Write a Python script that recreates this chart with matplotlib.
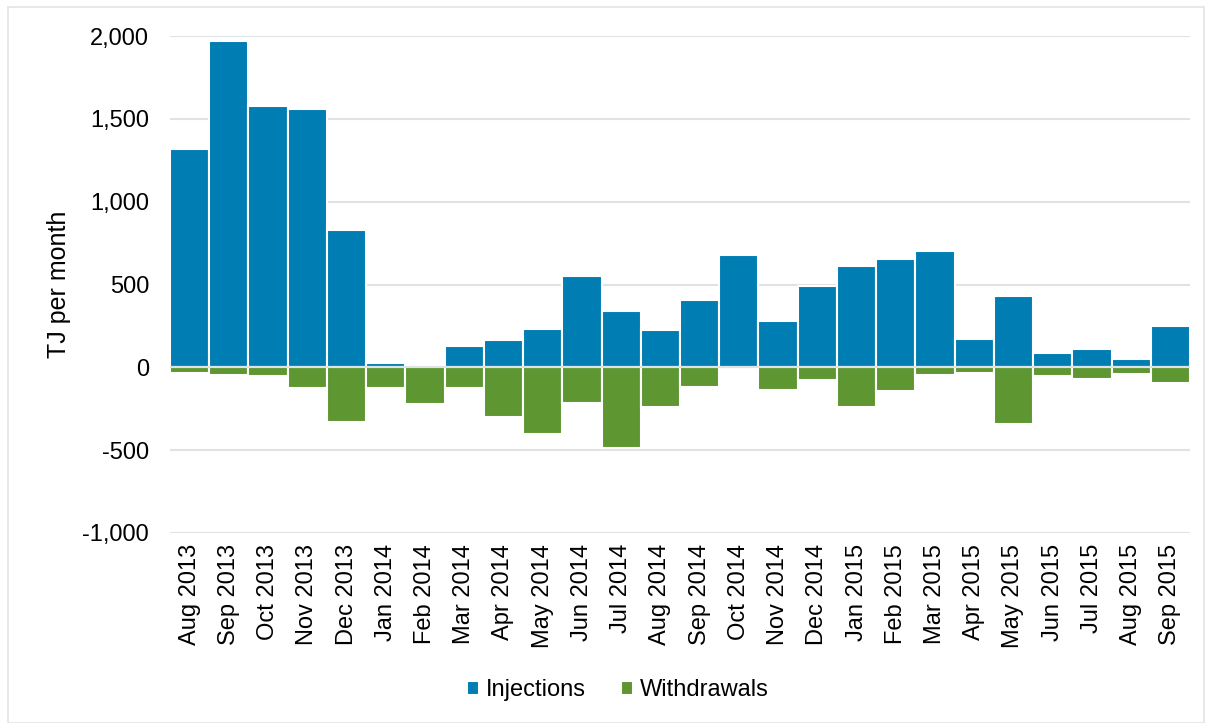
import matplotlib.pyplot as plt
from matplotlib.patches import Rectangle

months = ["Aug 2013", "Sep 2013", "Oct 2013", "Nov 2013", "Dec 2013",
          "Jan 2014", "Feb 2014", "Mar 2014", "Apr 2014", "May 2014",
          "Jun 2014", "Jul 2014", "Aug 2014", "Sep 2014", "Oct 2014",
          "Nov 2014", "Dec 2014", "Jan 2015", "Feb 2015", "Mar 2015",
          "Apr 2015", "May 2015", "Jun 2015", "Jul 2015", "Aug 2015",
          "Sep 2015"]

injections = [1316, 1968, 1580, 1560, 827, 28, 10, 129, 165, 229,
              553, 340, 226, 406, 676, 281, 489, 614, 652, 702,
              173, 429, 85, 109, 50, 248]

withdrawals = [-33, -47, -53, -122, -327, -124, -220, -126, -301, -402,
               -216, -488, -237, -116, 0, -138, -77, -239, -142, -47,
               -33, -341, -53, -71, -39, -95]

blue = "#007db3"
green = "#5e9732"
grid_col = "#dde3e6"

plt.rcParams['font.family'] = ['Liberation Sans', 'DejaVu Sans']

fig = plt.figure(figsize=(12.14, 7.23), dpi=100)
ax = fig.add_axes([170 / 1214, 1 - 533 / 723, 1020 / 1214, 497 / 723])

x = range(len(months))
ax.bar(x, injections, width=1.0, color=blue, edgecolor="white", linewidth=1.5,
       label="Injections", zorder=2)
ax.bar(x, withdrawals, width=1.0, color=green, edgecolor="white", linewidth=1.5,
       label="Withdrawals", zorder=2)
ax.axhline(0, color=grid_col, linewidth=1.5, zorder=3)

ax.set_xlim(-0.5, len(months) - 0.5)
ax.set_ylim(-1000, 2000)
ax.set_yticks(range(-1000, 2001, 500))
ax.set_yticklabels([f"{v:,}" for v in range(-1000, 2001, 500)], fontsize=17)
ax.set_xticks(list(x))
ax.set_xticklabels(months, rotation=90, fontsize=17)
ax.tick_params(axis="y", length=0, pad=15)
ax.tick_params(axis="x", length=0, pad=8)
ax.yaxis.grid(True, color=grid_col, linewidth=1.5, zorder=0)
ax.set_axisbelow(True)
for s in ax.spines.values():
    s.set_visible(False)

ax.set_ylabel("TJ per month", fontsize=18)
ax.yaxis.set_label_coords(-0.097, 0.5)

fig.legend(loc="center", bbox_to_anchor=(0.509, 0.045), ncol=2, frameon=False,
           fontsize=17, handlelength=0.5, handleheight=0.5, handletextpad=0.3,
           columnspacing=1.5)

# light frame around the whole chart
fig.patches.append(Rectangle((8 / 1214, 0.0), 1196 / 1214, 1 - 7 / 723,
                             transform=fig.transFigure, fill=False,
                             edgecolor="#dfe5e8", linewidth=1.2))

fig.savefig("out.png", dpi=100)
